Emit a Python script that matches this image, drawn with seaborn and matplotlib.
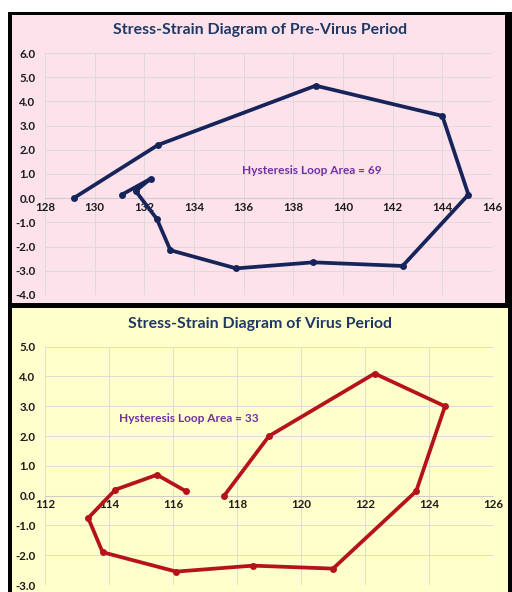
import pandas as pd
import matplotlib.pyplot as plt
import matplotlib.patches as mpatches
import seaborn as sns

pre_strain = [129.15, 132.55, 138.9, 144.0, 145.05, 142.4, 138.8, 135.7,
              133.05, 132.5, 131.65, 132.25, 131.1]
pre_stress = [0.0, 2.2, 4.65, 3.4, 0.15, -2.8, -2.65, -2.9,
              -2.15, -0.85, 0.3, 0.8, 0.15]

virus_strain = [117.6, 119.0, 122.3, 124.5, 123.6, 121.0, 118.5, 116.1,
                113.8, 113.35, 114.2, 115.5, 116.4]
virus_stress = [0.0, 2.0, 4.1, 3.0, 0.15, -2.45, -2.35, -2.55,
                -1.9, -0.75, 0.2, 0.7, 0.15]

pre_xticks = [128, 130, 132, 134, 136, 138, 140, 142, 144, 146]
pre_yticks = [-4, -3, -2, -1, 0, 1, 2, 3, 4, 5, 6]
virus_xticks = [112, 114, 116, 118, 120, 122, 124, 126]
virus_yticks = [-3, -2, -1, 0, 1, 2, 3, 4, 5]

pre_area = 69
virus_area = 33

sns.set_style("white")
plt.rcParams['font.family'] = ['Lato', 'DejaVu Sans']

W, H = 512, 592
fig = plt.figure(figsize=(W / 100, H / 100), dpi=100)
fig.patch.set_facecolor("white")

def px_rect(x0, y0, x1, y1, color):   # pixel box (top-left origin) -> figure patch
    fig.patches.append(mpatches.Rectangle((x0 / W, 1 - y1 / H), (x1 - x0) / W, (y1 - y0) / H,
                                          transform=fig.transFigure, facecolor=color,
                                          edgecolor="none", zorder=-5))

px_rect(8, 12, 512, 592, "black")
px_rect(12, 15, 505, 303, "#fde2ec")
px_rect(12, 308, 508, 592, "#ffffcc")

def panel(rect, xs, ys, color, xticks, yticks, title, title_y, area, area_xy):
    ax = fig.add_axes(rect)
    ax.set_zorder(3)
    ax.set_facecolor("none")
    df = pd.DataFrame({"strain": xs, "stress": ys})
    sns.lineplot(data=df, x="strain", y="stress", sort=False, estimator=None,
                 color=color, linewidth=2.7, marker="o", markersize=5,
                 markeredgewidth=0, ax=ax)
    ax.set_xlim(xticks[0], xticks[-1])
    ax.set_ylim(yticks[0], yticks[-1])
    ax.set_xticks(xticks)
    ax.set_yticks(yticks)
    ax.set_xticklabels([str(t) for t in xticks])
    ax.set_yticklabels([f"{t:.1f}" for t in yticks])
    ax.grid(True, color="#dedada", linewidth=0.7)
    for s in ("top", "right", "left"):
        ax.spines[s].set_visible(False)
    ax.spines["bottom"].set_position(("data", 0))
    ax.spines["bottom"].set_color("#d0cccc")
    ax.spines["bottom"].set_linewidth(0.8)
    ax.spines["bottom"].set_zorder(1)
    ax.tick_params(axis="x", length=0, pad=2.5)
    ax.tick_params(axis="y", length=0, pad=7)
    for lab in ax.get_xticklabels() + ax.get_yticklabels():
        lab.set_fontweight("bold")
        lab.set_fontsize(8.3)
        lab.set_color("#1a1a1a")
    ax.set_xlabel("")
    ax.set_ylabel("")
    ax.text(area_xy[0], area_xy[1], f"Hysteresis Loop Area = {area}", color="#7030a0",
            fontsize=8.6, fontweight="bold", ha="center", va="center")
    fig.text(0.507, 1 - title_y / H, title, color="#1f3864", fontsize=11.4,
             fontweight="bold", ha="center", va="center", zorder=4)
    return ax

panel([45 / W, 1 - 295 / H, 447 / W, 242 / H], pre_strain, pre_stress, "#17245a",
      pre_xticks, pre_yticks, "Stress-Strain Diagram of Pre-Virus Period", 30,
      pre_area, (138.75, 1.15))
panel([45 / W, 1 - 585 / H, 448 / W, 238.3 / H], virus_strain, virus_stress, "#b5121b",
      virus_xticks, virus_yticks, "Stress-Strain Diagram of Virus Period", 324,
      virus_area, (116.5, 2.6))

plt.savefig("out.png", dpi=100)
print("saved out.png")
